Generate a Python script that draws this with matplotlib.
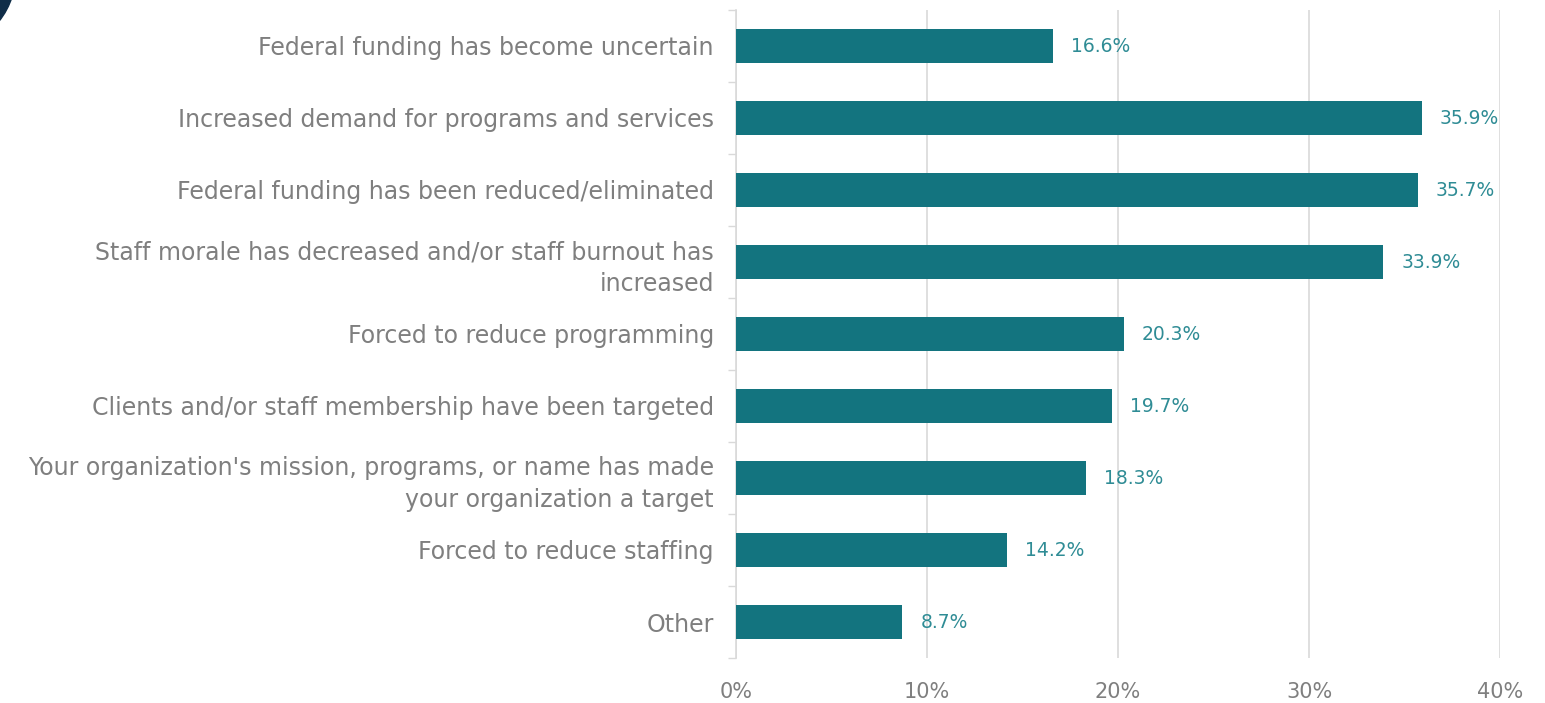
import matplotlib
matplotlib.use("Agg")
import matplotlib.pyplot as plt
from matplotlib.patches import Circle
from matplotlib.ticker import FuncFormatter, FixedLocator

categories = [
    "Federal funding has become uncertain",
    "Increased demand for programs and services",
    "Federal funding has been reduced/eliminated",
    "Staff morale has decreased and/or staff burnout has\nincreased",
    "Forced to reduce programming",
    "Clients and/or staff membership have been targeted",
    "Your organization's mission, programs, or name has made\nyour organization a target",
    "Forced to reduce staffing",
    "Other",
]
values = [16.6, 35.9, 35.7, 33.9, 20.3, 19.7, 18.3, 14.2, 8.7]
xticks = [0, 10, 20, 30, 40]

bar_color = "#13747f"
label_color = "#2f8c95"
text_color = "#7f7f7f"
grid_color = "#d9d9d9"

plt.rcParams['font.family'] = ['DejaVu Sans']

fig = plt.figure(figsize=(15.45, 7.03), dpi=100)
ax = fig.add_axes([736/1545, 1 - 658/703, (1500-736)/1545, (658-10)/703])

n = len(categories)
ypos = list(range(n))
ax.barh(ypos, values, height=0.47, color=bar_color, zorder=3)
ax.set_ylim(n - 0.5, -0.5)
ax.set_xlim(0, 40)

for y, v in zip(ypos, values):
    ax.text(v + 0.95, y, f"{v:.1f}%", va="center", ha="left", fontsize=13.5,
            color=label_color, zorder=4)

ax.set_yticks(ypos)
ax.set_yticklabels(categories, fontsize=17, color=text_color, ha="right",
                   multialignment="right", linespacing=1.4)
ax.tick_params(axis="y", length=0, pad=16)
ax.yaxis.set_minor_locator(FixedLocator([i - 0.5 for i in range(n + 1)]))
ax.tick_params(axis="y", which="minor", length=6, color=grid_color, width=1)

ax.set_xticks(xticks)
ax.xaxis.set_major_formatter(FuncFormatter(lambda x, p: f"{int(x)}%"))
ax.tick_params(axis="x", length=0, pad=17, labelsize=15, labelcolor=text_color)
ax.grid(axis="x", color=grid_color, linewidth=1.2, zorder=0)

for s in ["top", "right", "bottom"]:
    ax.spines[s].set_visible(False)
ax.spines["left"].set_color(grid_color)
ax.spines["left"].set_linewidth(1.2)

# decorative dark arc in the top-left corner
circ = Circle((-60, 729), 75.6, transform=None, color="#0f2d48", zorder=10)
fig.patches.append(circ)

fig.savefig("out.png", dpi=100, facecolor="white")
